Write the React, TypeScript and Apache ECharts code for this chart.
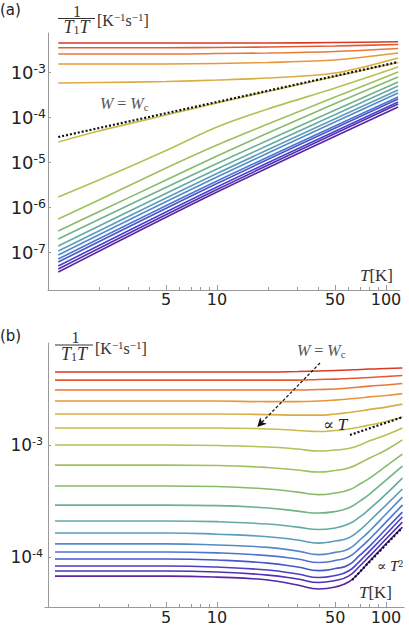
import React, { useEffect, useRef } from "react";
import * as echarts from "echarts";

// ---------- Panel (a): 1/(T1 T) vs T ----------
const tempA = [1.15, 2, 5, 10, 20, 50, 118];
const tempASteep = [1.15, 10, 118];
const rateA1 = [4.41e-3, 4.41e-3, 4.41e-3, 4.41e-3, 4.41e-3, 4.53e-3, 4.71e-3];
const rateA2 = [3.47e-3, 3.47e-3, 3.47e-3, 3.5e-3, 3.6e-3, 3.78e-3, 4.08e-3];
const rateA3 = [2.51e-3, 2.51e-3, 2.51e-3, 2.58e-3, 2.64e-3, 2.86e-3, 3.33e-3];
const rateA4 = [1.51e-3, 1.51e-3, 1.51e-3, 1.55e-3, 1.63e-3, 1.85e-3, 2.64e-3];
const rateA5 = [5.7e-4, 5.84e-4, 6.15e-4, 6.64e-4, 7.36e-4, 9.5e-4, 2.05e-3];
const rateA6 = [2.78e-5, 4.89e-5, 1.11e-4, 2.05e-4, 3.69e-4, 7.94e-4, 1.63e-3];
const rateA7 = [1.67e-6, 3.98e-6, 1.8e-5, 6.0e-5, 1.51e-4, 4.41e-4, 1.29e-3];
const rateA8 = [5.41e-7, 1.43e-6, 7.36e-6, 2.39e-5, 6.99e-5, 2.78e-4, 1.0e-3];
const rateA9 = [2.93e-7, 7.87e-7, 3.98e-6, 1.36e-5, 4.41e-5, 2.0e-4, 7.74e-4];
const rateA10 = [1.95e-7, 9.27e-6, 6.0e-4];
const rateA11 = [1.36e-7, 6.99e-6, 4.89e-4];
const rateA12 = [1.05e-7, 5.55e-6, 3.98e-4];
const rateA13 = [8.58e-8, 4.64e-6, 3.41e-4];
const rateA14 = [6.99e-8, 3.78e-6, 2.78e-4];
const rateA15 = [6.0e-8, 3.33e-6, 2.51e-4];
const rateA16 = [4.89e-8, 2.78e-6, 2.15e-4];
const rateA17 = [4.19e-8, 2.45e-6, 1.95e-4];
const rateA18 = [3.59e-8, 2.15e-6, 1.67e-4];
const refTempA = [1.15, 118];
const refRateA = [3.59e-5, 1.67e-3];

// ---------- Panel (b) ----------
const tempB = [1.1, 5, 10, 20, 30, 40, 50, 60, 70, 80, 100, 125];
const rateB1 = [4.49e-3, 4.49e-3, 4.49e-3, 4.49e-3, 4.53e-3, 4.58e-3, 4.63e-3, 4.68e-3, 4.72e-3, 4.77e-3, 4.82e-3, 4.87e-3];
const rateB2 = [3.8e-3, 3.8e-3, 3.8e-3, 3.8e-3, 3.8e-3, 3.85e-3, 3.88e-3, 3.93e-3, 3.97e-3, 4.01e-3, 4.09e-3, 4.18e-3];
const rateB3 = [3.1e-3, 3.1e-3, 3.1e-3, 3.1e-3, 3.1e-3, 3.13e-3, 3.16e-3, 3.23e-3, 3.3e-3, 3.36e-3, 3.44e-3, 3.54e-3];
const rateB4 = [2.47e-3, 2.47e-3, 2.47e-3, 2.44e-3, 2.44e-3, 2.47e-3, 2.52e-3, 2.58e-3, 2.63e-3, 2.69e-3, 2.77e-3, 2.88e-3];
const rateB5 = [1.89e-3, 1.89e-3, 1.89e-3, 1.87e-3, 1.85e-3, 1.85e-3, 1.89e-3, 1.95e-3, 2.01e-3, 2.08e-3, 2.18e-3, 2.32e-3];
const rateB6 = [1.42e-3, 1.42e-3, 1.42e-3, 1.39e-3, 1.35e-3, 1.32e-3, 1.35e-3, 1.39e-3, 1.45e-3, 1.51e-3, 1.62e-3, 1.78e-3];
const rateB7 = [1.0e-3, 1.0e-3, 9.9e-4, 9.6e-4, 9.21e-4, 8.84e-4, 9.02e-4, 9.31e-4, 1.0e-3, 1.09e-3, 1.23e-3, 1.42e-3];
const rateB8 = [6.62e-4, 6.62e-4, 6.56e-4, 6.3e-4, 5.98e-4, 5.74e-4, 5.93e-4, 6.24e-4, 6.9e-4, 7.66e-4, 9.02e-4, 1.11e-3];
const rateB9 = [4.31e-4, 4.31e-4, 4.26e-4, 4.05e-4, 3.8e-4, 3.61e-4, 3.73e-4, 3.96e-4, 4.49e-4, 5.07e-4, 6.49e-4, 8.31e-4];
const rateB10 = [2.91e-4, 2.91e-4, 2.88e-4, 2.74e-4, 2.57e-4, 2.47e-4, 2.55e-4, 2.74e-4, 3.16e-4, 3.65e-4, 4.87e-4, 6.49e-4];
const rateB11 = [2.1e-4, 2.1e-4, 2.07e-4, 1.97e-4, 1.85e-4, 1.76e-4, 1.82e-4, 1.97e-4, 2.28e-4, 2.69e-4, 3.65e-4, 5.07e-4];
const rateB12 = [1.64e-4, 1.64e-4, 1.6e-4, 1.52e-4, 1.42e-4, 1.33e-4, 1.39e-4, 1.48e-4, 1.74e-4, 2.1e-4, 2.91e-4, 4.05e-4];
const rateB13 = [1.31e-4, 1.31e-4, 1.28e-4, 1.22e-4, 1.13e-4, 1.05e-4, 1.1e-4, 1.18e-4, 1.42e-4, 1.71e-4, 2.42e-4, 3.43e-4];
const rateB14 = [1.11e-4, 1.11e-4, 1.09e-4, 1.03e-4, 9.6e-5, 8.93e-5, 9.31e-5, 1.0e-4, 1.2e-4, 1.45e-4, 2.05e-4, 2.91e-4];
const rateB15 = [9.6e-5, 9.6e-5, 9.4e-5, 8.83e-5, 8.14e-5, 7.57e-5, 7.89e-5, 8.49e-5, 1.04e-4, 1.25e-4, 1.78e-4, 2.52e-4];
const rateB16 = [8.32e-5, 8.32e-5, 8.14e-5, 7.65e-5, 7.05e-5, 6.56e-5, 6.84e-5, 7.5e-5, 9.2e-5, 1.13e-4, 1.6e-4, 2.28e-4];
const rateB17 = [7.5e-5, 7.5e-5, 7.35e-5, 6.9e-5, 6.37e-5, 5.92e-5, 6.17e-5, 6.76e-5, 8.32e-5, 1.02e-4, 1.45e-4, 2.05e-4];
const rateB18 = [6.76e-5, 6.76e-5, 6.62e-5, 6.24e-5, 5.62e-5, 5.18e-5, 5.4e-5, 5.98e-5, 7.35e-5, 9.2e-5, 1.31e-4, 1.85e-4];
const refTempB1 = [61.2, 126];
const refRateB1 = [1.23e-3, 1.78e-3];
const refTempB2 = [63, 124.4];
const refRateB2 = [6.24e-5, 1.82e-4];
const arrowTemp = [40.7, 17.3];
const arrowRate = [5.4e-3, 1.45e-3];

// ticks
const majorTicksX = [5, 10, 50, 100];
const minorTicksX = [2, 3, 4, 6, 7, 8, 9, 20, 30, 40, 60, 70, 80, 90];
const decadesA = [-7, -6, -5, -4, -3];
const decadesB = [-4, -3];

const colors = [
  "#d93a26", "#e35a2e", "#e87a36", "#e8983c", "#d9ad42", "#c8bb4c",
  "#b5c055", "#9fc05e", "#86bb6c", "#6eb38a", "#63aaa6", "#5c9cbc",
  "#548ac8", "#4c74d0", "#4557cc", "#4a40c2", "#5130b4", "#5826a6",
];

const SERIF = "'Liberation Serif', 'DejaVu Serif', serif";
const SANS = "'DejaVu Sans', Verdana, sans-serif";

const toPts = (ts: number[], rs: number[]) => ts.map((t, i) => [Math.log10(t), Math.log10(rs[i])]);

const rs = (size: number, italic = false, extra: any = {}) => ({
  fontFamily: SERIF, fontSize: size, fontStyle: italic ? "italic" : "normal", ...extra,
});

function gText(x: number, y: number, text: string, rich: any, align = "left", fill = "#333") {
  return {
    type: "text", x, y, silent: true, z: 100,
    style: { text, rich, fill, align, verticalAlign: "middle", textAlign: align, textVerticalAlign: "middle" },
  };
}

function axisPair(grid: number, min: number, max: number, labelSize: number, margin: number) {
  const axisColor = "#9a9a9a";
  return [
    {
      type: "value", gridIndex: grid, min, max, position: "bottom",
      axisLine: { show: true, lineStyle: { color: axisColor, width: 1 } },
      axisTick: { show: true, inside: true, length: 5, customValues: majorTicksX.map(Math.log10), lineStyle: { color: axisColor } },
      axisLabel: {
        customValues: majorTicksX.map(Math.log10), margin, fontSize: labelSize, fontFamily: SANS, color: "#222",
        formatter: (v: number) => String(Math.round(Math.pow(10, v))),
      },
      splitLine: { show: false },
    },
    {
      type: "value", gridIndex: grid, min, max, position: "bottom",
      axisLine: { show: false },
      axisTick: { show: true, inside: true, length: 3, customValues: minorTicksX.map(Math.log10), lineStyle: { color: axisColor } },
      axisLabel: { show: false },
      splitLine: { show: false },
    },
  ];
}

function yAxis(grid: number, min: number, max: number, decs: number[], big: number, small: number) {
  const axisColor = "#9a9a9a";
  return {
    type: "value", gridIndex: grid, min, max,
    axisLine: { show: true, lineStyle: { color: axisColor, width: 1 } },
    axisTick: { show: true, inside: true, length: 3, customValues: decs, lineStyle: { color: axisColor } },
    axisLabel: {
      customValues: decs, margin: 2, color: "#222",
      formatter: (v: number) => `{a|10}{b|${Math.round(v)}}`,
      rich: {
        a: { fontFamily: SANS, fontSize: big, lineHeight: big + 2, color: "#222" },
        b: { fontFamily: SANS, fontSize: small, lineHeight: small + 1, verticalAlign: "top", color: "#222" },
      },
    },
    splitLine: { show: false },
  };
}

export default function App() {
  const ref = useRef<HTMLDivElement>(null);
  useEffect(() => {
    const chart = echarts.init(ref.current!, undefined, { renderer: "svg" });

    const aFlat = [rateA1, rateA2, rateA3, rateA4, rateA5, rateA6, rateA7, rateA8, rateA9];
    const aSteep = [rateA10, rateA11, rateA12, rateA13, rateA14, rateA15, rateA16, rateA17, rateA18];
    const bAll = [rateB1, rateB2, rateB3, rateB4, rateB5, rateB6, rateB7, rateB8, rateB9,
      rateB10, rateB11, rateB12, rateB13, rateB14, rateB15, rateB16, rateB17, rateB18];

    const lineSeries = (data: number[][], color: string, xi: number, yi: number, smooth: number) => ({
      type: "line", xAxisIndex: xi, yAxisIndex: yi, data, symbol: "none", showSymbol: false,
      smooth, silent: true, z: 2,
      lineStyle: { color, width: 1.6 },
    });

    const series: any[] = [];
    aFlat.forEach((r, i) => series.push(lineSeries(toPts(tempA, r), colors[i], 0, 0, 0.3)));
    aSteep.forEach((r, i) => series.push(lineSeries(toPts(tempASteep, r), colors[i + 9], 0, 0, 0.3)));
    bAll.forEach((r, i) => series.push(lineSeries(toPts(tempB, r), colors[i], 2, 1, 0.5)));

    const dotted = (ts: number[], r: number[], xi: number, yi: number) => ({
      type: "line", xAxisIndex: xi, yAxisIndex: yi, data: toPts(ts, r), symbol: "none", silent: true, z: 5,
      lineStyle: { color: "#111", width: 2.2, type: [2, 2] },
    });
    series.push(dotted(refTempA, refRateA, 0, 0));
    series.push(dotted(refTempB1, refRateB1, 2, 1));
    series.push(dotted(refTempB2, refRateB2, 2, 1));

    series.push({
      type: "line", xAxisIndex: 2, yAxisIndex: 1, data: [], silent: true, z: 6,
      markLine: {
        silent: true, symbol: ["none", "arrow"], symbolSize: [7, 9], animation: false,
        label: { show: false },
        lineStyle: { color: "#111", type: [3, 2], width: 1.2 },
        data: [[
          { coord: [Math.log10(arrowTemp[0]), Math.log10(arrowRate[0])] },
          { coord: [Math.log10(arrowTemp[1]), Math.log10(arrowRate[1])] },
        ]],
      },
    });

    const fracA = [
      gText(77, 11, "{r|1}", { r: rs(16) }, "center"),
      { type: "line", silent: true, z: 100, shape: { x1: 58, y1: 18.5, x2: 95, y2: 18.5 }, style: { stroke: "#333", lineWidth: 1 } },
      gText(76.5, 26.5, "{i|T}{s|1}{i|T}", { i: rs(18, true, { lineHeight: 18 }), s: rs(12, false, { lineHeight: 10, verticalAlign: "bottom" }) }, "center"),
      gText(97, 20, "{r|[K}{p|\u22121}{r|s}{p|\u22121}{r|]}", { r: rs(16, false, { lineHeight: 18 }), p: rs(11, false, { lineHeight: 10, verticalAlign: "top" }) }),
    ];
    const fracB = [
      gText(75.5, 337.5, "{r|1}", { r: rs(16) }, "center"),
      { type: "line", silent: true, z: 100, shape: { x1: 55, y1: 345, x2: 93, y2: 345 }, style: { stroke: "#333", lineWidth: 1 } },
      gText(74, 354, "{i|T}{s|1}{i|T}", { i: rs(18, true, { lineHeight: 18 }), s: rs(12, false, { lineHeight: 10, verticalAlign: "bottom" }) }, "center"),
      gText(95, 348.5, "{r|[K}{p|\u22121}{r|s}{p|\u22121}{r|]}", { r: rs(16, false, { lineHeight: 18 }), p: rs(11, false, { lineHeight: 10, verticalAlign: "top" }) }),
    ];
    const wRich = { i: rs(16, true, { lineHeight: 18 }), r: rs(16, false, { lineHeight: 18 }), s: rs(11, false, { lineHeight: 10, verticalAlign: "bottom" }) };

    const graphic = [
      { type: "text", x: 0, y: 10, silent: true, style: { text: "(a)", font: `15px ${SANS}`, fill: "#222", verticalAlign: "middle", textVerticalAlign: "middle" } },
      { type: "text", x: 0, y: 335.5, silent: true, style: { text: "(b)", font: `15px ${SANS}`, fill: "#222", verticalAlign: "middle", textVerticalAlign: "middle" } },
      ...fracA, ...fracB,
      gText(393, 275, "{i|T}{r|[K]}", { i: rs(17, true, { lineHeight: 18 }), r: rs(17, false, { lineHeight: 18 }) }, "right"),
      gText(392, 592, "{i|T}{r|[K]}", { i: rs(17, true, { lineHeight: 18 }), r: rs(17, false, { lineHeight: 18 }) }, "right"),
      gText(100, 103.5, "{i|W}{r| = }{i|W}{s|c}", wRich, "left", "#555"),
      gText(297, 350, "{i|W}{r| = }{i|W}{s|c}", wRich, "left", "#555"),
      gText(323, 424, "{r|\u221D }{i|T}", { r: rs(16, false, { lineHeight: 18 }), i: rs(17, true, { lineHeight: 18 }) }, "left", "#222"),
      gText(377, 566, "{r|\u221D }{i|T}{p|2}", { r: rs(14, false, { lineHeight: 16 }), i: rs(15, true, { lineHeight: 16 }), p: rs(10, false, { lineHeight: 9, verticalAlign: "top" }) }, "left", "#222"),
    ];

    const xA = axisPair(0, 0, 2.083, 16, 1);
    const xB = axisPair(1, -0.0178, 2.1065, 16, 2);

    chart.setOption({
      animation: false,
      backgroundColor: "#ffffff",
      grid: [
        { left: 48, top: 33, width: 352, height: 257 },
        { left: 45, top: 343, width: 359, height: 264 },
      ],
      xAxis: [...xA, ...xB],
      yAxis: [
        yAxis(0, -7.844, -2.133, decadesA, 18, 12.5),
        yAxis(1, -4.446, -2.089, decadesB, 17, 11),
      ],
      series,
      graphic,
    });
    return () => chart.dispose();
  }, []);
  return <div ref={ref} style={{ position: "fixed", left: 0, top: 0, width: 409, height: 626, background: "#fff" }} />;
}
